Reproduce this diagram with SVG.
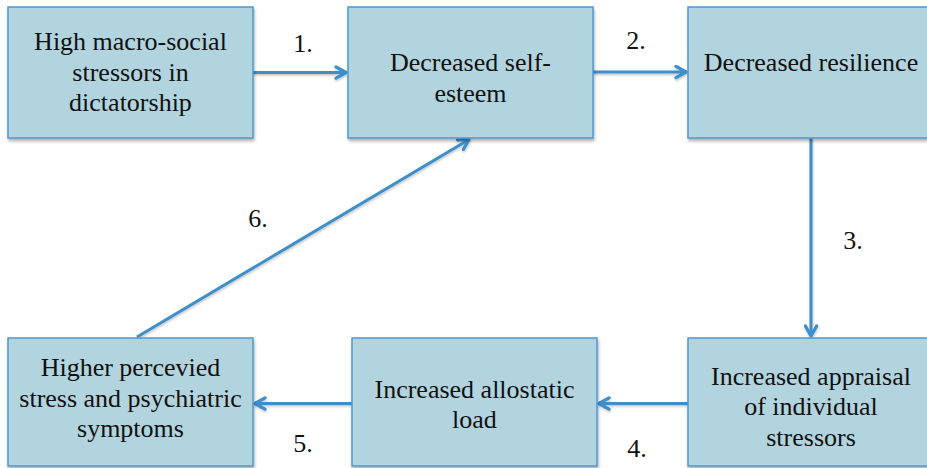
<svg xmlns="http://www.w3.org/2000/svg" width="927" height="468" viewBox="0 0 927 468">
  <style>
    .box { fill: #b2d4df; stroke: #4f98d0; stroke-width: 1.5; filter: url(#shadow); }
    .txt { font-family: "Liberation Serif", "Times New Roman", serif; font-size: 26px; fill: #111; text-anchor: middle; }
    .edge { fill: none; stroke: #3d8fcb; stroke-width: 3; marker-end: url(#head); filter: url(#lineshadow); }
  </style>
  <defs>
    <filter id="shadow" filterUnits="userSpaceOnUse" x="0" y="0" width="927" height="468">
      <feDropShadow dx="1" dy="2.5" stdDeviation="1.8" flood-color="#000" flood-opacity="0.3"/>
    </filter>
    <filter id="lineshadow" filterUnits="userSpaceOnUse" x="0" y="0" width="927" height="468">
      <feDropShadow dx="0.5" dy="1.5" stdDeviation="1" flood-color="#000" flood-opacity="0.25"/>
    </filter>
    <marker id="head" viewBox="0 0 12 12" refX="10" refY="6" markerWidth="5" markerHeight="5" markerUnits="strokeWidth" orient="auto">
      <path d="M2,1.5 L10,6 L2,10.5" fill="none" stroke="#3d8fcb" stroke-width="2.6" stroke-linecap="round" stroke-linejoin="round"/>
    </marker>
  </defs>

  <rect width="927" height="468" fill="#ffffff"/>

  <!-- connectors -->
  <g id="connectors">
    <line class="edge" x1="253" y1="72.5" x2="346" y2="72.5"/>
    <line class="edge" x1="593" y1="72" x2="686" y2="72"/>
    <line class="edge" x1="811" y1="138" x2="811" y2="336"/>
    <line class="edge" x1="688" y1="403.5" x2="599" y2="403.5"/>
    <line class="edge" x1="352" y1="403.5" x2="255" y2="403.5"/>
    <line class="edge" x1="137" y1="337" x2="469" y2="139.5"/>
  </g>

  <!-- step labels -->
  <g id="labels">
    <text class="txt" x="303" y="52">1.</text>
    <text class="txt" x="636" y="49">2.</text>
    <text class="txt" x="853" y="249">3.</text>
    <text class="txt" x="637" y="457">4.</text>
    <text class="txt" x="303" y="452">5.</text>
    <text class="txt" x="258" y="227">6.</text>
  </g>

  <g id="node-macro-stressors">
    <rect class="box" x="8" y="7" width="245" height="131"/>
    <text class="txt" x="130.5" y="50">High macro-social</text>
    <text class="txt" x="130.5" y="81">stressors in</text>
    <text class="txt" x="130.5" y="111">dictatorship</text>
  </g>

  <g id="node-self-esteem">
    <rect class="box" x="348" y="7" width="245" height="131"/>
    <text class="txt" x="470.5" y="71">Decreased self-</text>
    <text class="txt" x="470.5" y="102">esteem</text>
  </g>

  <g id="node-resilience">
    <rect class="box" x="688" y="7" width="246" height="131"/>
    <text class="txt" x="811" y="71">Decreased resilience</text>
  </g>

  <g id="node-appraisal">
    <rect class="box" x="688" y="338" width="246" height="128"/>
    <text class="txt" x="811" y="385">Increased appraisal</text>
    <text class="txt" x="811" y="415">of individual</text>
    <text class="txt" x="811" y="446">stressors</text>
  </g>

  <g id="node-allostatic-load">
    <rect class="box" x="352" y="338" width="245" height="128"/>
    <text class="txt" x="474.5" y="398">Increased allostatic</text>
    <text class="txt" x="474.5" y="428">load</text>
  </g>

  <g id="node-perceived-stress">
    <rect class="box" x="8" y="338" width="245" height="128"/>
    <text class="txt" x="130.5" y="376">Higher percevied</text>
    <text class="txt" x="130.5" y="407">stress and psychiatric</text>
    <text class="txt" x="130.5" y="437">symptoms</text>
  </g>
</svg>
